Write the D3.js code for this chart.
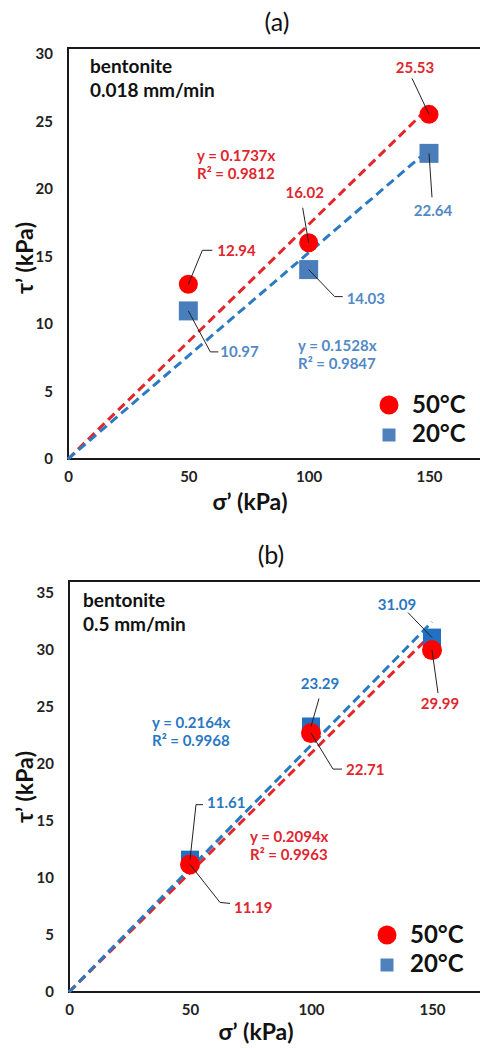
<!DOCTYPE html>
<html>
<head>
<meta charset="utf-8">
<script src="https://cdn.jsdelivr.net/npm/d3@7"></script>
<style>
  body { margin: 0; background: #fff; }
  svg text { font-family: Lato, "Open Sans", sans-serif; }
</style>
</head>
<body>
<div id="chart"></div>
<script>
// data
const sigma = [50, 100, 150];
const xTicks = [0, 50, 100, 150];
const seriesNames = ["50°C", "20°C"];

const tauA50 = [12.94, 16.02, 25.53];
const tauA20 = [10.97, 14.03, 22.64];
const fitA50 = [0.1737, 0.9812];
const fitA20 = [0.1528, 0.9847];
const yTicksA = [0, 5, 10, 15, 20, 25, 30];

const tauB50 = [11.19, 22.71, 29.99];
const tauB20 = [11.61, 23.29, 31.09];
const fitB50 = [0.2094, 0.9963];
const fitB20 = [0.2164, 0.9968];
const yTicksB = [0, 5, 10, 15, 20, 25, 30, 35];

const RED = "#ff0000", RED_LINE = "#e3262b", RED_TEXT = "#e0262e";
const fmt = d3.format(".2f");

// layout of each panel (pixel offsets of callouts are relative to the point)
const panels = [
  {
    tag: "(a)", tagPos: [277, 22], note: ["bentonite", "0.018 mm/min"], notePos: [90, 66],
    top: 48, xRange: [68, 429], yRange: [459, 54], yMax: 30, yTicks: yTicksA,
    hot: tauA50, cold: tauA20, hotFit: fitA50, coldFit: fitA20,
    coldFill: "#4a7ebb", coldLine: "#2b7bc4", coldText: "#5289c6",
    sq: 19, r: 9.5,
    hotLabels: [
      { path: [[14, -34], [24, -34]], at: [29, -34], anchor: "start" },
      { path: [[-6, -35]], at: [-4, -50], anchor: "middle" },
      { path: [[-17, -36]], at: [-14, -47], anchor: "middle" }
    ],
    coldLabels: [
      { path: [[22, 41], [30, 41]], at: [32, 41], anchor: "start" },
      { path: [[26, 27], [34, 27]], at: [38, 29], anchor: "start" },
      { path: [[3, 44]], at: [4, 57], anchor: "middle" }
    ],
    hotEq: [53.6, 22.5], coldEq: [95.6, 8.4],
    legend: [389, 405], xTitle: [250, 502], yTitle: [25, 258]
  },
  {
    tag: "(b)", tagPos: [271, 555], note: ["bentonite", "0.5 mm/min"], notePos: [83, 600],
    top: 581, xRange: [69, 432], yRange: [992, 593], yMax: 35, yTicks: yTicksB,
    hot: tauB50, cold: tauB20, hotFit: fitB50, coldFit: fitB20,
    coldFill: "#2170c2", coldLine: "#2a7ac2", coldText: "#2a78c2",
    sq: 18, r: 10,
    hotLabels: [
      { path: [[30, 38], [40, 39]], at: [44, 43], anchor: "start" },
      { path: [[22, 36], [31, 36]], at: [35, 37], anchor: "start" },
      { path: [[6, 43]], at: [8, 54], anchor: "middle" }
    ],
    coldLabels: [
      { path: [[6, -55], [13, -55]], at: [17, -57], anchor: "start" },
      { path: [[8, -28]], at: [9, -43], anchor: "middle" },
      { path: [[-24, -25]], at: [-35, -33], anchor: "middle" }
    ],
    hotEq: [74.8, 13.6], coldEq: [34.3, 23.6],
    legend: [387, 935], xTitle: [256, 1032], yTitle: [25, 787]
  }
];

const svg = d3.select("#chart").append("svg")
  .attr("width", 480).attr("height", 1048);

function callout(g, x, y, spec, text, color) {
  const pts = [[x, y]].concat(spec.path.map(d => [x + d[0], y + d[1]]));
  g.append("path")
    .attr("d", d3.line()(pts))
    .attr("fill", "none").attr("stroke", "#222").attr("stroke-width", 1);
  g.append("text")
    .attr("x", x + spec.at[0]).attr("y", y + spec.at[1])
    .attr("dy", "0.35em").attr("text-anchor", spec.anchor)
    .attr("font-size", 15).attr("font-weight", 700).attr("fill", color)
    .text(text);
}

function drawPanel(p) {
  const g = svg.append("g");
  const x = d3.scaleLinear().domain([0, 150]).range(p.xRange);
  const y = d3.scaleLinear().domain([0, p.yMax]).range(p.yRange);
  const x0 = p.xRange[0], y0 = p.yRange[0];

  g.append("text")
    .attr("x", p.tagPos[0]).attr("y", p.tagPos[1]).attr("dy", "0.35em")
    .attr("text-anchor", "middle").attr("font-size", 25).attr("fill", "#111")
    .text(p.tag);

  // frame
  g.append("path")
    .attr("d", `M480,${p.top}H${x0}V${y0}H480`)
    .attr("fill", "none").attr("stroke", "#1a1a1a").attr("stroke-width", 2);

  const ax = g.append("g").attr("transform", `translate(0,${y0})`)
    .call(d3.axisBottom(x).tickValues(xTicks).tickSize(0).tickPadding(12));
  const ay = g.append("g").attr("transform", `translate(${x0},0)`)
    .call(d3.axisLeft(y).tickValues(p.yTicks).tickSize(0).tickPadding(15));
  [ax, ay].forEach(a => {
    a.select(".domain").remove();
    a.selectAll("text").attr("font-size", 15).attr("font-weight", 700)
      .attr("fill", "#222").style("font-family", "Lato, sans-serif");
  });

  g.append("text")
    .attr("x", p.xTitle[0]).attr("y", p.xTitle[1]).attr("dy", "0.35em")
    .attr("text-anchor", "middle").attr("font-size", 23).attr("font-weight", 700)
    .attr("fill", "#111").text("σ’ (kPa)");
  g.append("text")
    .attr("transform", `translate(${p.yTitle[0]},${p.yTitle[1]}) rotate(-90)`)
    .attr("dy", "0.35em").attr("text-anchor", "middle")
    .attr("font-size", 23).attr("font-weight", 700)
    .attr("fill", "#111").text("τ’ (kPa)");

  g.selectAll(".note").data(p.note).join("text")
    .attr("x", p.notePos[0]).attr("y", (d, i) => p.notePos[1] + i * 24)
    .attr("dy", "0.35em").attr("font-size", 19).attr("font-weight", 700)
    .attr("fill", "#111").text(d => d);

  // linear fits through the origin
  const fits = [[p.hotFit, RED_LINE], [p.coldFit, p.coldLine]];
  fits.forEach(([f, c]) => {
    g.append("line")
      .attr("x1", x(0)).attr("y1", y(0))
      .attr("x2", x(150)).attr("y2", y(150 * f[0]))
      .attr("stroke", c).attr("stroke-width", 3).attr("stroke-dasharray", "9,5");
  });

  g.selectAll(".sq").data(p.cold).join("rect")
    .attr("x", (d, i) => x(sigma[i]) - p.sq / 2)
    .attr("y", d => y(d) - p.sq / 2)
    .attr("width", p.sq).attr("height", p.sq).attr("fill", p.coldFill);
  g.selectAll(".dot").data(p.hot).join("circle")
    .attr("cx", (d, i) => x(sigma[i])).attr("cy", d => y(d))
    .attr("r", p.r).attr("fill", RED);

  p.hot.forEach((d, i) => callout(g, x(sigma[i]), y(d), p.hotLabels[i], fmt(d), RED_TEXT));
  p.cold.forEach((d, i) => callout(g, x(sigma[i]), y(d), p.coldLabels[i], fmt(d), p.coldText));

  // equation boxes
  [[p.hotEq, p.hotFit, RED_TEXT], [p.coldEq, p.coldFit, p.coldText]].forEach(([pos, f, c]) => {
    const lines = [`y = ${f[0].toFixed(4)}x`, `R² = ${f[1].toFixed(4)}`];
    g.append("g").selectAll("text").data(lines).join("text")
      .attr("x", x(pos[0])).attr("y", (t, i) => y(pos[1]) + i * 18)
      .attr("dy", "0.35em").attr("font-size", 15).attr("font-weight", 700)
      .attr("fill", c).text(t => t);
  });

  // legend
  const lg = g.append("g").attr("transform", `translate(${p.legend[0]},${p.legend[1]})`);
  lg.append("circle").attr("r", 9.5).attr("fill", RED);
  lg.append("rect").attr("x", -6.5).attr("y", 23.5).attr("width", 13).attr("height", 13)
    .attr("fill", "#4f81bd");
  lg.selectAll("text").data(seriesNames).join("text")
    .attr("x", 23).attr("y", (d, i) => i * 29).attr("dy", "0.35em")
    .attr("font-size", 24).attr("font-weight", 700).attr("fill", "#111")
    .text(d => d);
}

panels.forEach(drawPanel);
</script>
</body>
</html>
